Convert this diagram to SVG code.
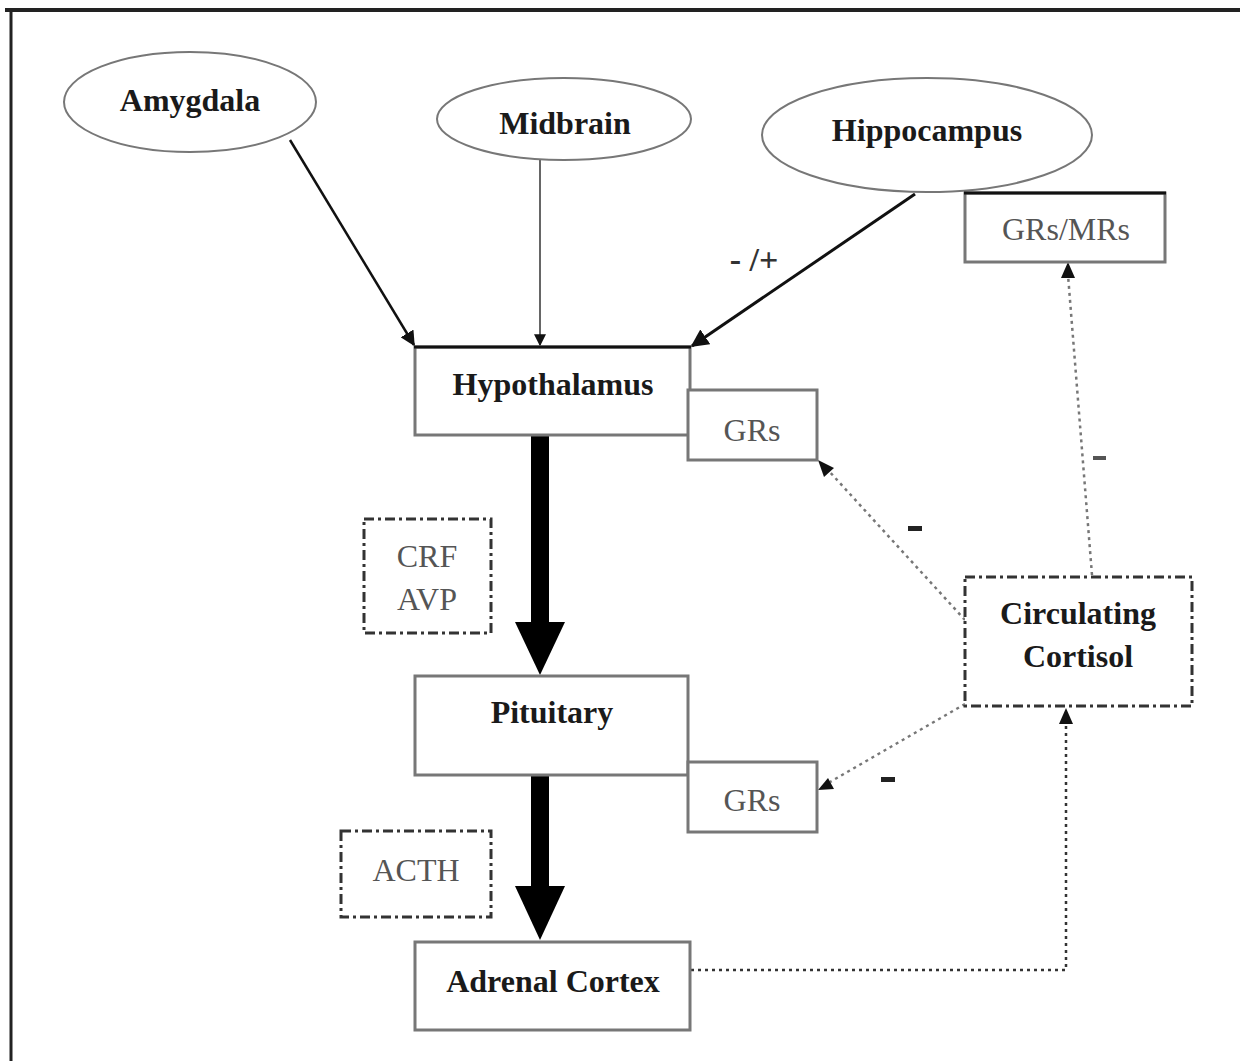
<svg xmlns="http://www.w3.org/2000/svg" width="1240" height="1061" viewBox="0 0 1240 1061">
<defs>
<marker id="ahs" viewBox="0 0 10 10" refX="9" refY="5" markerWidth="6" markerHeight="6" orient="auto" markerUnits="strokeWidth">
<path d="M0,0 L10,5 L0,10 z" fill="#111"/>
</marker>
<style>
.bt{font-family:"Liberation Serif","Times New Roman",serif;font-weight:bold;font-size:32px;fill:#1a1a1a;text-anchor:middle}
.rt{font-family:"Liberation Serif","Times New Roman",serif;font-size:32px;fill:#555;text-anchor:middle}
.ell{fill:#fff;stroke:#777;stroke-width:2}
.box{fill:#fff;stroke:#777;stroke-width:3}
.dd{fill:#fff;stroke:#333;stroke-width:3;stroke-dasharray:10 4 3 4}
.dot{fill:none;stroke:#777;stroke-width:2.5;stroke-dasharray:3 4}
.solid{fill:none;stroke:#111}
</style>
</defs>
<rect x="0" y="0" width="1240" height="1061" fill="#fff"/>
<g id="frame">
<line x1="5" y1="10" x2="1240" y2="10" stroke="#222" stroke-width="4"/>
<line x1="11" y1="10" x2="11" y2="1061" stroke="#222" stroke-width="3"/>
</g>
<g id="connectors">
<line class="solid" x1="290" y1="140" x2="414" y2="345" stroke-width="2.5" marker-end="url(#ahs)"/>
<line x1="540" y1="160" x2="540" y2="345" stroke="#666" stroke-width="2" marker-end="url(#ahs)"/>
<line class="solid" x1="915" y1="194" x2="692" y2="346" stroke-width="3" marker-end="url(#ahs)"/>
<line x1="540" y1="435" x2="540" y2="625" stroke="#000" stroke-width="18"/>
<path d="M515,622 L565,622 L540,675 z" fill="#000"/>
<line x1="540" y1="775" x2="540" y2="888" stroke="#000" stroke-width="18"/>
<path d="M515,886 L565,886 L540,940 z" fill="#000"/>
<line class="dot" x1="1092" y1="575" x2="1068" y2="275"/>
<path d="M1068,262 L1061,278 L1075,278 z" fill="#111"/>
<line class="dot" x1="965" y1="620" x2="828" y2="470"/>
<path d="M818,460 L824,477 L834,468 z" fill="#111"/>
<line class="dot" x1="965" y1="704" x2="830" y2="782"/>
<path d="M818,790 L834,789 L828,778 z" fill="#111"/>
<polyline class="dot" points="691,970 1066,970 1066,722" style="stroke:#333"/>
<path d="M1066,708 L1059,724 L1073,724 z" fill="#111"/>
</g>
<g id="amygdala">
<ellipse class="ell" cx="190" cy="102" rx="126" ry="50"/>
<text class="bt" x="190" y="111">Amygdala</text>
</g>
<g id="midbrain">
<ellipse class="ell" cx="564" cy="119" rx="127" ry="41"/>
<text class="bt" x="565" y="134">Midbrain</text>
</g>
<g id="hippocampus">
<ellipse class="ell" cx="927" cy="135" rx="165" ry="57"/>
<text class="bt" x="927" y="141">Hippocampus</text>
</g>
<g id="grs-mrs">
<rect class="box" x="965" y="193" width="200" height="69"/>
<line x1="964" y1="193" x2="1166" y2="193" stroke="#111" stroke-width="3"/>
<text class="rt" x="1066" y="240">GRs/MRs</text>
</g>
<g id="hypothalamus">
<rect class="box" x="415" y="347" width="275" height="88"/>
<line x1="414" y1="347" x2="691" y2="347" stroke="#111" stroke-width="3"/>
<text class="bt" x="553" y="395">Hypothalamus</text>
</g>
<g id="grs-hypo">
<rect class="box" x="688" y="390" width="129" height="70"/>
<text class="rt" x="752" y="441">GRs</text>
</g>
<g id="crf-avp">
<rect class="dd" x="364" y="519" width="127" height="114"/>
<text class="rt" x="427" y="567">CRF</text>
<text class="rt" x="427" y="610">AVP</text>
</g>
<g id="pituitary">
<rect class="box" x="415" y="676" width="273" height="99"/>
<text class="bt" x="552" y="723">Pituitary</text>
</g>
<g id="grs-pit">
<rect class="box" x="688" y="762" width="129" height="70"/>
<text class="rt" x="752" y="811">GRs</text>
</g>
<g id="acth">
<rect class="dd" x="341" y="831" width="150" height="86"/>
<text class="rt" x="416" y="881">ACTH</text>
</g>
<g id="adrenal">
<rect class="box" x="415" y="942" width="275" height="88"/>
<text class="bt" x="553" y="992">Adrenal Cortex</text>
</g>
<g id="cortisol">
<rect class="dd" x="965" y="577" width="227" height="129"/>
<text class="bt" x="1078" y="624">Circulating</text>
<text class="bt" x="1078" y="667">Cortisol</text>
</g>
<g id="labels">
<text class="bt" x="754" y="271" style="font-size:34px;fill:#333">- /+</text>
<rect x="1093" y="456" width="13" height="4" fill="#555"/>
<rect x="908" y="526" width="14" height="5" fill="#222"/>
<rect x="881" y="777" width="14" height="5" fill="#222"/>
</g>
</svg>
